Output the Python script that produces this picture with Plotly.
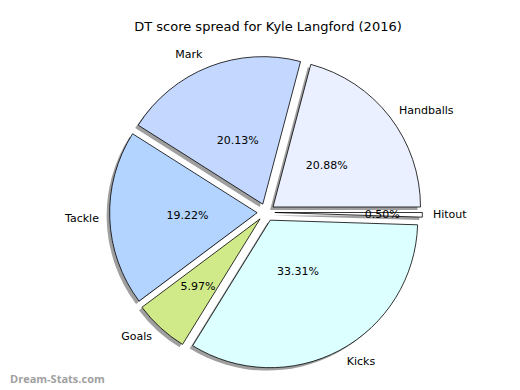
import plotly.graph_objects as go

labels = ["Hitout", "Handballs", "Mark", "Tackle", "Goals", "Kicks"]
values = [0.50, 20.88, 20.13, 19.22, 5.97, 33.31]
colors = ["#ffffff", "#eaf0ff", "#c4d8ff", "#b2d4ff", "#d0ea8a", "#dcffff"]
title = "DT score spread for Kyle Langford (2016)"
watermark = "Dream-Stats.com"

W, H = 520, 390
FONT = "DejaVu Sans"
CX, CY = 258, 212       # pie centre in pixels
R = 153                 # pie radius in pixels
EXPLODE = 0.06          # pull as fraction of R


def domain(cx, cy, r, pull_px):
    """Domain (paper fractions) so a pie of radius r with pull pull_px sits at (cx, cy)."""
    pull = pull_px / r
    h = r * (1 + pull)
    return dict(x=[(cx - h) / W, (cx + h) / W], y=[(H - cy - h) / H, (H - cy + h) / H]), pull


common = dict(labels=labels, values=values, sort=False, direction="counterclockwise", rotation=90)
n = len(values)
pull_px = EXPLODE * R

fig = go.Figure()
# shadow (offset left and down, like matplotlib's shadow=True)
d, p = domain(CX - 3, CY + 3, R, pull_px)
fig.add_trace(go.Pie(**common, pull=[p] * n,
                     marker=dict(colors=["rgba(80,80,80,0.55)"] * n, line=dict(width=0)),
                     textinfo="none", hoverinfo="skip", domain=d, showlegend=False))
# main wedges
d, p = domain(CX, CY, R, pull_px)
fig.add_trace(go.Pie(**common, pull=[p] * n,
                     marker=dict(colors=colors, line=dict(color="black", width=0.8)),
                     textinfo="none", domain=d, showlegend=False))
# percentage texts (inner transparent pie, like pctdistance)
d, p = domain(CX, CY, 0.74 * R, pull_px)
fig.add_trace(go.Pie(**common, pull=[p] * n,
                     marker=dict(colors=["rgba(0,0,0,0)"] * n, line=dict(width=0)),
                     texttemplate="%{percent:.2%}", textposition="inside",
                     insidetextorientation="horizontal",
                     textfont=dict(family=FONT, size=11, color="black"),
                     hoverinfo="skip", domain=d, showlegend=False))
# outside labels (slightly larger transparent pie, like labeldistance)
d, p = domain(CX, CY, 1.05 * R, pull_px)
fig.add_trace(go.Pie(**common, pull=[p] * n,
                     marker=dict(colors=["rgba(0,0,0,0)"] * n, line=dict(width=0)),
                     textinfo="label", textposition="outside",
                     outsidetextfont=dict(family=FONT, size=11, color="black"),
                     hoverinfo="skip", domain=d, showlegend=False))

fig.update_layout(
    width=W, height=H,
    margin=dict(l=0, r=0, t=0, b=0),
    paper_bgcolor="white", plot_bgcolor="white",
    title=dict(text=title, x=0.5, xanchor="center", y=1 - 18 / H, yanchor="middle",
               font=dict(family=FONT, size=13, color="black")),
    uniformtext=dict(minsize=11, mode="show"),
    annotations=[dict(text="<b>" + watermark + "</b>", xref="paper", yref="paper", x=0, y=-4 / H,
                      xanchor="left", yanchor="bottom", showarrow=False,
                      font=dict(family="Open Sans", size=11, color="#a0a0a0"))],
)
fig.write_html("out.html")
